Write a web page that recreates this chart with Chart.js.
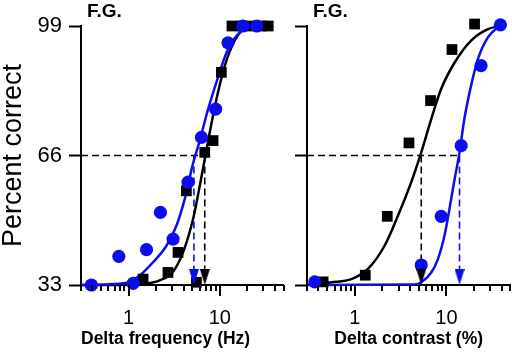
<!DOCTYPE html>
<html lang="en">
<head>
<meta charset="UTF-8">
<title>F.G. psychometric curves</title>
<script src="https://cdn.jsdelivr.net/npm/chart.js"></script>
<style>
  body { margin: 0; background: #fff; }
  .panel { position: absolute; top: 0; }
  #panelFreq { left: 0; }
  #panelContrast { left: 290px; }
</style>
</head>
<body>
<div class="panel" id="panelFreq"><canvas id="chartFreq" width="290" height="353"></canvas></div>
<div class="panel" id="panelContrast"><canvas id="chartContrast" width="222" height="353"></canvas></div>
<script>
// axis ticks
const yTicks = [33, 66, 99];
const xMinorTicks = [0.3, 0.4, 0.5, 0.6, 0.7, 0.8, 0.9, 2, 3, 4, 5, 6, 7, 8, 9, 20, 30, 40, 50];
const xMajorTicks = [1, 10];
const criterion = 66;   // threshold level
const arrowTop = 37;    // where the dashed drop line meets the arrow head

// --- left panel: delta frequency (Hz) ---
const freqSquareX = [1.44, 2.7, 3.48, 4.3, 5.54, 6.84, 8.44, 10.4, 13.6, 17.5, 22.5, 28.5, 34];
const freqSquareY = [34.5, 36.2, 41.3, 57, 33.7, 66.8, 69.8, 87.2, 99, 99, 99, 99, 99];
const freqCircleX = [0.39, 0.78, 1.12, 1.57, 2.23, 3.07, 4.49, 6.29, 9.0, 12.3, 17.9, 25.5];
const freqCircleY = [33, 40.3, 33.4, 42, 51.5, 44.7, 59.2, 70.6, 77.8, 94.7, 99, 99];
const freqBlackCurveX = [0.3, 1.0, 1.5, 2.19, 3.07, 3.95, 5.09, 6.03, 6.84, 7.76, 9.2, 11.35, 14.6, 19.7, 26];
const freqBlackCurveY = [33, 33, 33.3, 34.2, 36.4, 41.3, 49.8, 58.3, 65.1, 71.9, 80.4, 88.9, 95.3, 98.7, 99];
const freqBlueCurveX = [0.3, 0.62, 1.03, 1.32, 1.85, 2.6, 3.34, 4.12, 5.09, 6.03, 7.44, 9.2, 11.9, 15.3, 21.4, 27.5];
const freqBlueCurveY = [33, 33.2, 33.8, 35.4, 38.8, 43, 48.1, 54.9, 64, 69.8, 77.8, 84.7, 92.3, 96.5, 98.9, 99];
const freqThresh = [6.84, 5.2];   // black, blue

// --- right panel: delta contrast (%) ---
const conSquareX = [0.45, 1.30, 2.26, 3.9, 6.71, 11.5, 20.3];
const conSquareY = [33.8, 35.5, 50.5, 69.2, 80, 93, 99.5];
const conCircleX = [0.365, 5.31, 8.78, 14.5, 23.9, 38.9];
const conCircleY = [33.8, 38.1, 50.5, 68.5, 88.9, 99.3];
const conBlackCurveX = [0.3, 0.555, 0.916, 1.39, 2.11, 2.96, 4.13, 5.31, 6.83, 8.78, 12.3, 18.6, 28.4, 37.9];
const conBlackCurveY = [33, 33.7, 34.5, 37.1, 43, 50.7, 59.2, 66.8, 75.3, 83, 89.7, 95.3, 98.2, 99];
const conBlueCurveX = [0.3, 4.5, 5.31, 6.83, 8.08, 9.53, 10.8, 12.3, 13.9, 15.7, 18.6, 22.1, 28.4, 37.9];
const conBlueCurveY = [33, 33.1, 33.7, 36.2, 39.6, 45.6, 52.4, 60, 66.8, 75.3, 83.8, 90.6, 96.1, 99];
const conThresh = [5.31, 13.9];   // black, blue

const BLUE = 'rgb(12, 12, 240)';
const BLACK = '#000';
Chart.defaults.font.family = '"Liberation Sans", Arial, Helvetica, sans-serif';
Chart.defaults.color = '#000';

function pts(xs, ys) {
    return xs.map((x, i) => ({ x: x, y: ys[i] }));
}

// arrow head image, tip at the centre of the canvas
function arrowHead(color) {
    const c = document.createElement('canvas');
    c.width = 10;
    c.height = 32;
    const g = c.getContext('2d');
    g.fillStyle = color;
    g.beginPath();
    g.moveTo(0, 0);
    g.lineTo(10, 0);
    g.lineTo(5, 16);
    g.closePath();
    g.fill();
    return c;
}

// tick mark image hanging down from its centre
function tickMark(len) {
    const c = document.createElement('canvas');
    c.width = 2;
    c.height = len * 2;
    const g = c.getContext('2d');
    g.fillStyle = '#000';
    g.fillRect(0, len, 2, len);
    return c;
}

// "F.G." tag over each panel
const panelTag = {
    id: 'panelTag',
    afterDraw(chart) {
        const ctx = chart.ctx;
        ctx.save();
        ctx.font = 'bold 19px "Liberation Sans", Arial, sans-serif';
        ctx.fillStyle = '#000';
        ctx.textBaseline = 'middle';
        ctx.fillText('F.G.', chart.chartArea.left + 6, 12);
        ctx.restore();
    }
};

function curve(xs, ys, color, order) {
    return {
        data: pts(xs, ys), showLine: true, pointRadius: 0, borderColor: color,
        borderWidth: 2.5, cubicInterpolationMode: 'monotone', order: order, clip: false
    };
}

function dashed(data, color) {
    return {
        data: data, showLine: true, pointRadius: 0, borderColor: color,
        borderWidth: 1.6, borderDash: [7, 4], order: 10
    };
}

function ticksRow(values, len) {
    return {
        data: values.map(v => ({ x: v, y: 33 })), pointStyle: tickMark(len),
        pointRadius: len, order: 1, clip: false
    };
}

function buildDatasets(sq, ci, blackCurve, blueCurve, thresh, lineEnd) {
    return [
        dashed([{ x: 0.3, y: criterion }, { x: lineEnd, y: criterion }], BLACK),
        dashed([{ x: thresh[0], y: criterion }, { x: thresh[0], y: arrowTop }], BLACK),
        dashed([{ x: thresh[1], y: criterion }, { x: thresh[1], y: arrowTop }], BLUE),
        curve(blackCurve[0], blackCurve[1], BLACK, 8),
        curve(blueCurve[0], blueCurve[1], BLUE, 7),
        {
            data: pts(sq[0], sq[1]), pointStyle: 'rect', pointRadius: 7.6,
            backgroundColor: BLACK, borderColor: BLACK, borderWidth: 0, order: 5, clip: false
        },
        {
            data: pts(ci[0], ci[1]), pointStyle: 'circle', pointRadius: 6.6,
            backgroundColor: BLUE, borderColor: BLUE, borderWidth: 0, order: 4, clip: false
        },
        {
            data: [{ x: thresh[0], y: 33 }], pointStyle: arrowHead(BLACK), pointRadius: 8,
            order: 3, clip: false
        },
        {
            data: [{ x: thresh[1], y: 33 }], pointStyle: arrowHead(BLUE), pointRadius: 8,
            order: 3, clip: false
        },
        // log axis tick marks, long at decades
        ticksRow(xMinorTicks, 6),
        ticksRow(xMajorTicks, 11)
    ];
}

function makeOptions(xTitle, titleAlign, yWidth, padRight, showYLabels) {
    return {
        responsive: false,
        animation: false,
        events: [],
        layout: { autoPadding: false, padding: { top: 26, right: padRight, left: 0, bottom: 0 } },
        plugins: { legend: { display: false }, tooltip: { enabled: false } },
        scales: {
            x: {
                type: 'logarithmic', min: 0.3, max: 50,
                afterFit: (s) => { s.height = 68; },
                afterBuildTicks: (s) => { s.ticks = xMajorTicks.map(v => ({ value: v })); },
                border: { color: '#000', width: 2 },
                grid: { drawOnChartArea: false, drawTicks: true, tickLength: 10, tickColor: 'rgba(0,0,0,0)' },
                ticks: {
                    autoSkip: false, maxRotation: 0, padding: 11, color: '#000',
                    font: { size: 20 },
                    callback: (v) => String(v)
                },
                title: {
                    display: true, text: xTitle, color: '#000', align: titleAlign,
                    font: { size: 17.5, weight: 'bold' }, padding: { top: 0, bottom: 3 }
                }
            },
            y: {
                min: 33, max: 99,
                afterFit: (s) => { s.width = yWidth; },
                afterBuildTicks: (s) => { s.ticks = yTicks.map(v => ({ value: v })); },
                border: { color: '#000', width: 2 },
                grid: {
                    drawOnChartArea: false, drawTicks: true, tickLength: 12,
                    tickWidth: 2, tickColor: '#000'
                },
                ticks: { display: showYLabels, padding: 7, color: '#000', font: { size: 22 } },
                title: {
                    display: showYLabels, text: 'Percent correct', color: '#000',
                    font: { size: 27, lineHeight: 1.0 }, padding: { top: 0, bottom: 0 }
                }
            }
        }
    };
}

new Chart(document.getElementById('chartFreq'), {
    type: 'scatter',
    data: {
        datasets: buildDatasets(
            [freqSquareX, freqSquareY], [freqCircleX, freqCircleY],
            [freqBlackCurveX, freqBlackCurveY], [freqBlueCurveX, freqBlueCurveY],
            freqThresh, freqThresh[0])
    },
    options: makeOptions('Delta frequency (Hz)', 'start', 81, 6.5, true),
    plugins: [panelTag]
});

new Chart(document.getElementById('chartContrast'), {
    type: 'scatter',
    data: {
        datasets: buildDatasets(
            [conSquareX, conSquareY], [conCircleX, conCircleY],
            [conBlackCurveX, conBlackCurveY], [conBlueCurveX, conBlueCurveY],
            conThresh, conThresh[1])
    },
    options: makeOptions('Delta contrast (%)', 'center', 17, 1.6, false),
    plugins: [panelTag]
});
</script>
</body>
</html>
